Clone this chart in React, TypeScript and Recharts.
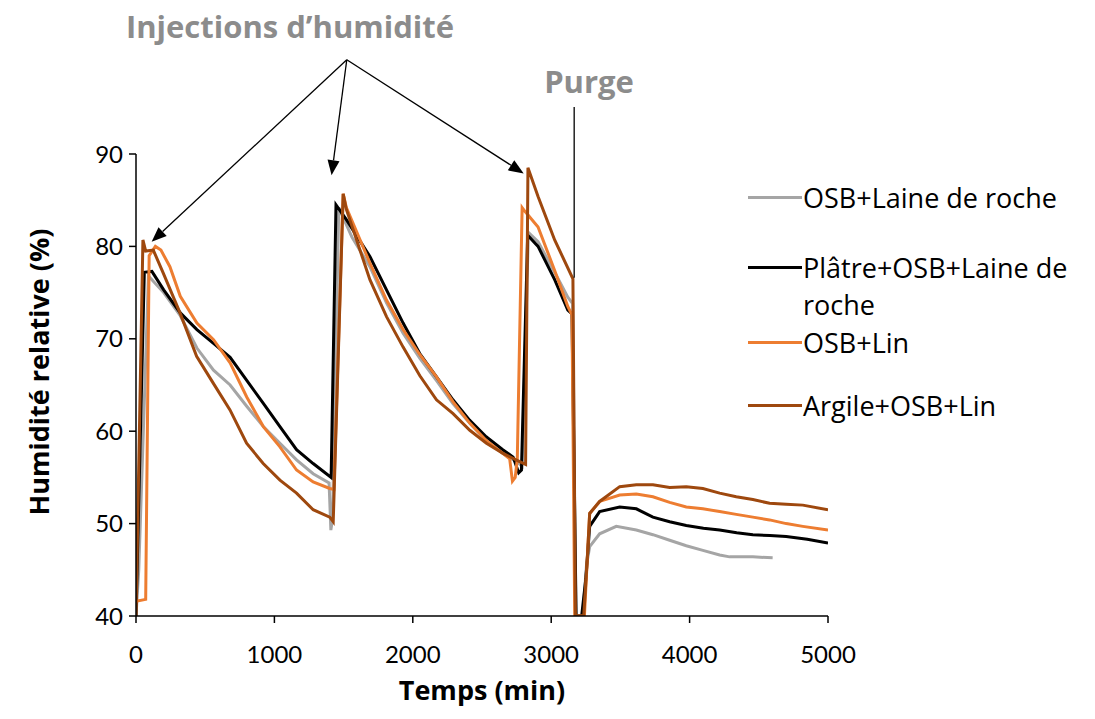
import React from "react";
import { LineChart, Line, XAxis, YAxis, ReferenceLine } from "recharts";

type Pt = [number, number];

// time (min), relative humidity (%)
const xTicks = [0, 1000, 2000, 3000, 4000, 5000];
const yTicks = [40, 50, 60, 70, 80, 90];

const osbLaine: Pt[] = [
  [0, 40], [20, 45], [90, 76.8], [200, 75.0], [320, 72.5], [440, 69.0], [560, 66.6],
  [680, 65.0], [800, 62.7], [920, 60.5], [1040, 58.7], [1160, 56.9], [1280, 55.4],
  [1395, 54.4], [1408, 49.3], [1420, 50.5], [1465, 84.2], [1560, 81.0], [1690, 77.8],
  [1810, 73.9], [1930, 70.6], [2050, 67.9], [2170, 65.5], [2290, 63.0], [2410, 60.9],
  [2530, 59.0], [2650, 57.6], [2760, 56.6], [2790, 56.2], [2835, 81.5], [2905, 80.5],
  [3025, 77.2], [3120, 74.5], [3155, 73.8], [3178, 40], [3228, 40], [3255, 45.5],
  [3278, 47.5], [3350, 48.9], [3470, 49.7], [3615, 49.3], [3735, 48.8], [3856, 48.2],
  [3976, 47.6], [4096, 47.1], [4217, 46.6], [4289, 46.4], [4457, 46.4], [4600, 46.3],
];

const platreOsbLaine: Pt[] = [
  [0, 40], [60, 77.2], [115, 77.3], [200, 75.3], [320, 72.8], [440, 71.0], [560, 69.5],
  [680, 68.0], [800, 65.5], [920, 63.0], [1040, 60.5], [1160, 58.0], [1280, 56.5],
  [1410, 55.0], [1445, 84.5], [1520, 82.9], [1690, 78.9], [1810, 75.3], [1930, 71.7],
  [2050, 68.4], [2170, 65.9], [2290, 63.4], [2410, 61.2], [2530, 59.4], [2650, 58.0],
  [2725, 57.2], [2765, 55.5], [2785, 55.8], [2830, 81.2], [2905, 80.0], [3025, 76.4],
  [3120, 73.1], [3150, 72.7], [3180, 40], [3220, 40], [3250, 44], [3278, 49.7],
  [3350, 51.3], [3495, 51.8], [3615, 51.6], [3735, 50.7], [3856, 50.2], [3976, 49.8],
  [4100, 49.5], [4217, 49.3], [4340, 49.0], [4457, 48.8], [4580, 48.7], [4698, 48.6],
  [4850, 48.3], [5000, 47.9],
];

const osbLin: Pt[] = [
  [0, 41.6], [70, 41.8], [95, 79.0], [140, 80.0], [180, 79.6], [245, 77.8], [320, 74.6],
  [440, 71.7], [560, 69.9], [680, 67.4], [800, 63.7], [920, 60.5], [1040, 58.3],
  [1160, 55.8], [1280, 54.5], [1400, 53.8], [1430, 53.7], [1497, 85.7], [1520, 84.2],
  [1690, 78.2], [1810, 74.2], [1930, 71.0], [2050, 68.3], [2170, 65.9], [2290, 63.2],
  [2410, 60.9], [2530, 59.0], [2650, 57.6], [2700, 57.0], [2720, 54.6], [2740, 55.0],
  [2755, 57.0], [2790, 84.2], [2810, 83.8], [2905, 82.1], [3025, 77.4], [3120, 73.5],
  [3150, 72.6], [3170, 40], [3240, 40], [3260, 46], [3278, 51.1], [3350, 52.4],
  [3495, 53.1], [3615, 53.2], [3735, 52.9], [3856, 52.3], [3976, 51.8], [4096, 51.6],
  [4217, 51.3], [4337, 51.0], [4457, 50.7], [4578, 50.4], [4698, 50.0], [4818, 49.7],
  [5000, 49.3],
];

const argileOsbLin: Pt[] = [
  [0, 40], [50, 80.7], [70, 79.5], [125, 79.6], [197, 77.1], [318, 72.8], [438, 68.1],
  [558, 65.2], [679, 62.3], [799, 58.7], [919, 56.5], [1040, 54.7], [1160, 53.3],
  [1280, 51.5], [1400, 50.7], [1425, 50.2], [1497, 85.7], [1520, 84.0], [1690, 76.4],
  [1810, 72.4], [1930, 69.1], [2051, 66.0], [2171, 63.4], [2291, 61.9], [2412, 60.1],
  [2532, 58.7], [2652, 57.6], [2772, 56.7], [2815, 56.4], [2832, 88.5], [2905, 85.4],
  [3025, 80.7], [3157, 76.5], [3175, 40], [3235, 40], [3260, 46], [3278, 51.1],
  [3350, 52.4], [3495, 54.0], [3615, 54.2], [3735, 54.2], [3856, 53.9], [3976, 54.0],
  [4096, 53.8], [4217, 53.3], [4337, 52.9], [4457, 52.6], [4578, 52.2], [4698, 52.1],
  [4818, 52.0], [5000, 51.5],
];

const series = [
  { name: "OSB+Laine de roche", color: "#A5A5A5", pts: osbLaine },
  { name: "Plâtre+OSB+Laine de roche", color: "#000000", pts: platreOsbLaine },
  { name: "OSB+Lin", color: "#ED7D31", pts: osbLin },
  { name: "Argile+OSB+Lin", color: "#9E480E", pts: argileOsbLin },
];

// annotation anchors in data coordinates
const arrowFrom = { t: 1523, rh: 100.2 };
const arrowTargets = [
  { t: 113, rh: 80.5 },
  { t: 1413, rh: 87.7 },
  { t: 2801, rh: 87.9 },
];
const purgeLine = { t: 3166, top: 95.1, bottom: 76.6 };

const FONT = "Lato, 'Open Sans', sans-serif";
const WIDE = "'Open Sans', Lato, sans-serif";

function Arrow(props: any) {
  const { x1, y1, x2, y2 } = props;
  const a = Math.atan2(y2 - y1, x2 - x1);
  const len = 15;
  const hw = 6;
  const bx = x2 - len * Math.cos(a);
  const by = y2 - len * Math.sin(a);
  const px = -Math.sin(a) * hw;
  const py = Math.cos(a) * hw;
  return (
    <g>
      <line x1={x1} y1={y1} x2={bx} y2={by} stroke="#000" strokeWidth={1.3} />
      <polygon points={`${x2},${y2} ${bx + px},${by + py} ${bx - px},${by - py}`} fill="#000" />
    </g>
  );
}

export default function App() {
  const legendTops = [197, 267, 342, 405];
  return (
    <div style={{ position: "absolute", left: 0, top: 0, width: 1095, height: 719, background: "#fff", fontFamily: FONT }}>
      <LineChart
        width={1095}
        height={719}
        margin={{ top: 154, right: 267, bottom: 53, left: 76 }}
      >
        <XAxis
          type="number"
          dataKey="t"
          domain={[0, 5000]}
          ticks={xTicks}
          allowDataOverflow
          tickSize={7}
          tickMargin={23}
          height={50}
          stroke="#000"
          axisLine={{ stroke: "#000", strokeWidth: 1.5 }}
          tickLine={{ stroke: "#000", strokeWidth: 1.5 }}
          tick={{ fill: "#000", fontSize: 24, fontFamily: FONT }}
        />
        <YAxis
          type="number"
          domain={[40, 90]}
          ticks={yTicks}
          allowDataOverflow
          tickSize={7}
          tickMargin={6}
          width={60}
          axisLine={{ stroke: "#000", strokeWidth: 1.5 }}
          tickLine={{ stroke: "#000", strokeWidth: 1.5 }}
          tick={{ fill: "#000", fontSize: 24, fontFamily: FONT }}
        />
        {series.map((s) => (
          <Line
            key={s.name}
            data={s.pts.map(([t, rh]) => ({ t, rh }))}
            dataKey="rh"
            name={s.name}
            type="linear"
            stroke={s.color}
            strokeWidth={3}
            dot={false}
            activeDot={false}
            isAnimationActive={false}
          />
        ))}
        {arrowTargets.map((p, i) => (
          <ReferenceLine
            key={i}
            segment={[{ x: arrowFrom.t, y: arrowFrom.rh }, { x: p.t, y: p.rh }]}
            ifOverflow="visible"
            shape={(sp: any) => <Arrow {...sp} />}
          />
        ))}
        <ReferenceLine
          segment={[{ x: purgeLine.t, y: purgeLine.top }, { x: purgeLine.t, y: purgeLine.bottom }]}
          ifOverflow="visible"
          stroke="#000"
          strokeWidth={1.3}
        />
      </LineChart>

      <div style={{ position: "absolute", left: 90, top: 5, width: 400, textAlign: "center", fontFamily: WIDE, fontSize: 31, fontWeight: 700, color: "#8C8C8C" }}>
        Injections d’humidité
      </div>
      <div style={{ position: "absolute", left: 539, top: 60, width: 100, textAlign: "center", fontFamily: WIDE, fontSize: 31, fontWeight: 700, color: "#8C8C8C" }}>
        Purge
      </div>

      <div style={{ position: "absolute", left: 0, top: 372, width: 0, height: 0 }}>
        <div style={{ position: "absolute", transform: "translate(-50%, -50%) rotate(-90deg)", left: 38, top: 0, whiteSpace: "nowrap", fontFamily: WIDE, fontSize: 27, fontWeight: 700, color: "#000" }}>
          Humidité relative (%)
        </div>
      </div>
      <div style={{ position: "absolute", left: 282, top: 671, width: 400, textAlign: "center", fontFamily: WIDE, fontSize: 27, fontWeight: 700, color: "#000" }}>
        Temps (min)
      </div>

      {series.map((s, i) => (
        <div key={s.name} style={{ position: "absolute", left: 748, top: legendTops[i] - 18, width: 345 }}>
          <div style={{ position: "absolute", left: 0, top: 17, width: 54, height: 3, background: s.color }} />
          <div style={{ position: "absolute", left: 55, top: 0, width: 290, fontFamily: WIDE, fontSize: 27, lineHeight: "37px", color: "#000", whiteSpace: "nowrap" }}>
            {s.name === "Plâtre+OSB+Laine de roche" ? (
              <>Plâtre+OSB+Laine de<br />roche</>
            ) : (
              s.name
            )}
          </div>
        </div>
      ))}
    </div>
  );
}
